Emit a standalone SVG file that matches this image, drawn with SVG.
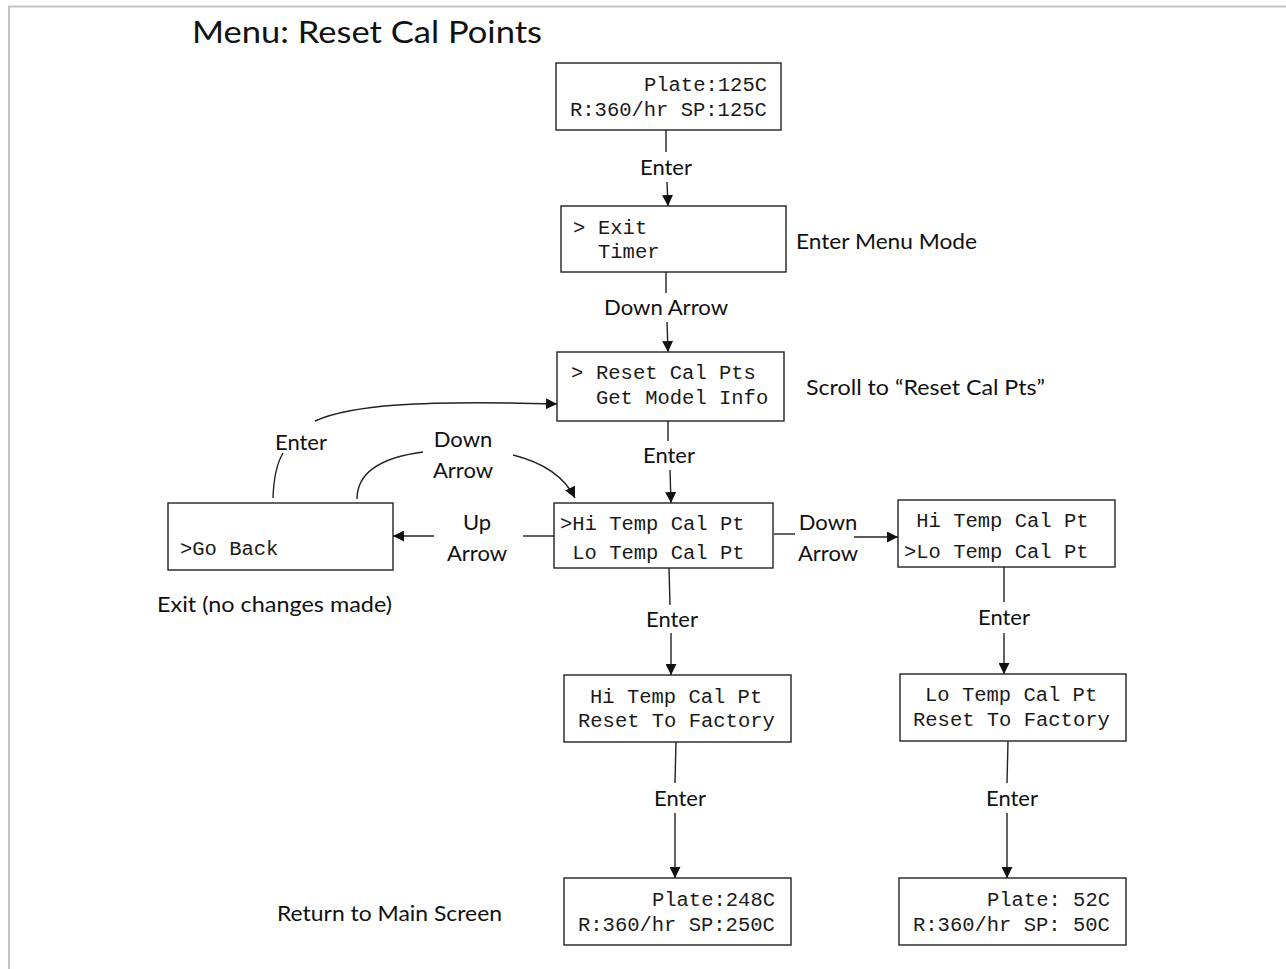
<svg xmlns="http://www.w3.org/2000/svg" width="1286" height="969" viewBox="0 0 1286 969">
<style>
.bg{fill:#fff}
.frame{stroke:#c3c3c3;stroke-width:2;fill:none}
.box{fill:#fff;stroke:#222;stroke-width:1.4}
.mono{font-family:"Liberation Mono","Courier New",monospace;font-size:20.5px;fill:#1a1a1a}
.lbl{font-family:Lato,"Liberation Sans",sans-serif;font-size:22px;fill:#111}
.mid{text-anchor:middle}
.end{text-anchor:end}
.title{font-family:Lato,"Liberation Sans",sans-serif;font-size:31px;fill:#111}
.ln{stroke:#222;stroke-width:1.4;fill:none}
.arr{marker-end:url(#ah)}
</style>
<defs>
<marker id="ah" viewBox="0 0 10 10" refX="10" refY="5" markerWidth="11" markerHeight="11" markerUnits="userSpaceOnUse" orient="auto">
<path d="M0,0 L10,5 L0,10 z" fill="#111"/>
</marker>
</defs>
<rect class="bg" x="0" y="0" width="1286" height="969"/>
<path class="frame" d="M9,969 L9,6.5 L1286,6.5"/>
<text class="title" x="192" y="43" textLength="350" lengthAdjust="spacingAndGlyphs">Menu: Reset Cal Points</text>

<g id="connectors">
<path class="ln" d="M666,130 L666,152"/>
<path class="ln arr" d="M667,182 L668,206"/>
<path class="ln" d="M666,272 L666,293"/>
<path class="ln arr" d="M667,322 L668,352"/>
<path class="ln" d="M668,421 L668,441"/>
<path class="ln arr" d="M670,470 L671,503"/>
<path class="ln" d="M273,498 Q274,468 283,453"/>
<path class="ln arr" d="M315,421 C350,405 420,400 557,404"/>
<path class="ln" d="M357,499 C357,470 385,457 423,452"/>
<path class="ln arr" d="M513,455 C545,463 565,478 575,498"/>
<path class="ln" d="M554,536 L523,536"/>
<path class="ln arr" d="M434,536 L393,536"/>
<path class="ln" d="M774,534 L795,534"/>
<path class="ln arr" d="M854,537 L898,537"/>
<path class="ln" d="M669,568 L670,605"/>
<path class="ln arr" d="M671,633 L671,675"/>
<path class="ln" d="M1004,567 L1004,602"/>
<path class="ln arr" d="M1004,633 L1004,674"/>
<path class="ln" d="M676,742 L675,783"/>
<path class="ln arr" d="M675,813 L675,878"/>
<path class="ln" d="M1008,741 L1007,783"/>
<path class="ln arr" d="M1007,813 L1007,878"/>
</g>

<g id="labels">
<text class="lbl mid" x="666" y="175">Enter</text>
<text class="lbl" x="796" y="249" textLength="181" lengthAdjust="spacingAndGlyphs">Enter Menu Mode</text>
<text class="lbl mid" x="666" y="315" textLength="124" lengthAdjust="spacingAndGlyphs">Down Arrow</text>
<text class="lbl" x="806" y="395" textLength="239" lengthAdjust="spacingAndGlyphs">Scroll to “Reset Cal Pts”</text>
<text class="lbl mid" x="669" y="463">Enter</text>
<text class="lbl mid" x="301" y="450">Enter</text>
<text class="lbl mid" x="463" y="447">Down</text>
<text class="lbl mid" x="463" y="478">Arrow</text>
<text class="lbl mid" x="477" y="530">Up</text>
<text class="lbl mid" x="477" y="561">Arrow</text>
<text class="lbl mid" x="828" y="530">Down</text>
<text class="lbl mid" x="828" y="561">Arrow</text>
<text class="lbl" x="157" y="612" textLength="235" lengthAdjust="spacingAndGlyphs">Exit (no changes made)</text>
<text class="lbl mid" x="672" y="627">Enter</text>
<text class="lbl mid" x="1004" y="625">Enter</text>
<text class="lbl mid" x="680" y="806">Enter</text>
<text class="lbl mid" x="1012" y="806">Enter</text>
<text class="lbl" x="277" y="921" textLength="225" lengthAdjust="spacingAndGlyphs">Return to Main Screen</text>
</g>

<g id="main1">
<rect class="box" x="556" y="63" width="225" height="67"/>
<text class="mono end" x="767" y="91">Plate:125C</text>
<text class="mono" x="570" y="116">R:360/hr SP:125C</text>
</g>
<g id="menu1">
<rect class="box" x="561" y="206" width="225" height="66"/>
<text class="mono" x="573" y="234">&gt;</text>
<text class="mono" x="598" y="234">Exit</text>
<text class="mono" x="598" y="258">Timer</text>
</g>
<g id="menu2">
<rect class="box" x="557" y="352" width="227" height="69"/>
<text class="mono" x="571" y="379">&gt;</text>
<text class="mono" x="596" y="379">Reset Cal Pts</text>
<text class="mono" x="596" y="404">Get Model Info</text>
</g>
<g id="goback">
<rect class="box" x="168" y="503" width="225" height="67"/>
<text class="mono" x="180" y="555">&gt;Go Back</text>
</g>
<g id="calsel1">
<rect class="box" x="554" y="503" width="219" height="65"/>
<text class="mono" x="560" y="530">&gt;Hi Temp Cal Pt</text>
<text class="mono" x="572.3" y="559">Lo Temp Cal Pt</text>
</g>
<g id="calsel2">
<rect class="box" x="898" y="500" width="217" height="67"/>
<text class="mono" x="916.3" y="527">Hi Temp Cal Pt</text>
<text class="mono" x="904" y="558">&gt;Lo Temp Cal Pt</text>
</g>
<g id="hireset">
<rect class="box" x="564" y="675" width="227" height="67"/>
<text class="mono" x="590" y="703">Hi Temp Cal Pt</text>
<text class="mono" x="578" y="727">Reset To Factory</text>
</g>
<g id="loreset">
<rect class="box" x="900" y="674" width="226" height="67"/>
<text class="mono" x="925" y="701">Lo Temp Cal Pt</text>
<text class="mono" x="913" y="726">Reset To Factory</text>
</g>
<g id="main2">
<rect class="box" x="564" y="878" width="227" height="67"/>
<text class="mono end" x="775" y="906">Plate:248C</text>
<text class="mono" x="578" y="931">R:360/hr SP:250C</text>
</g>
<g id="main3">
<rect class="box" x="899" y="878" width="227" height="67"/>
<text class="mono end" x="1110" y="906">Plate: 52C</text>
<text class="mono" x="913" y="931">R:360/hr SP: 50C</text>
</g>
</svg>
